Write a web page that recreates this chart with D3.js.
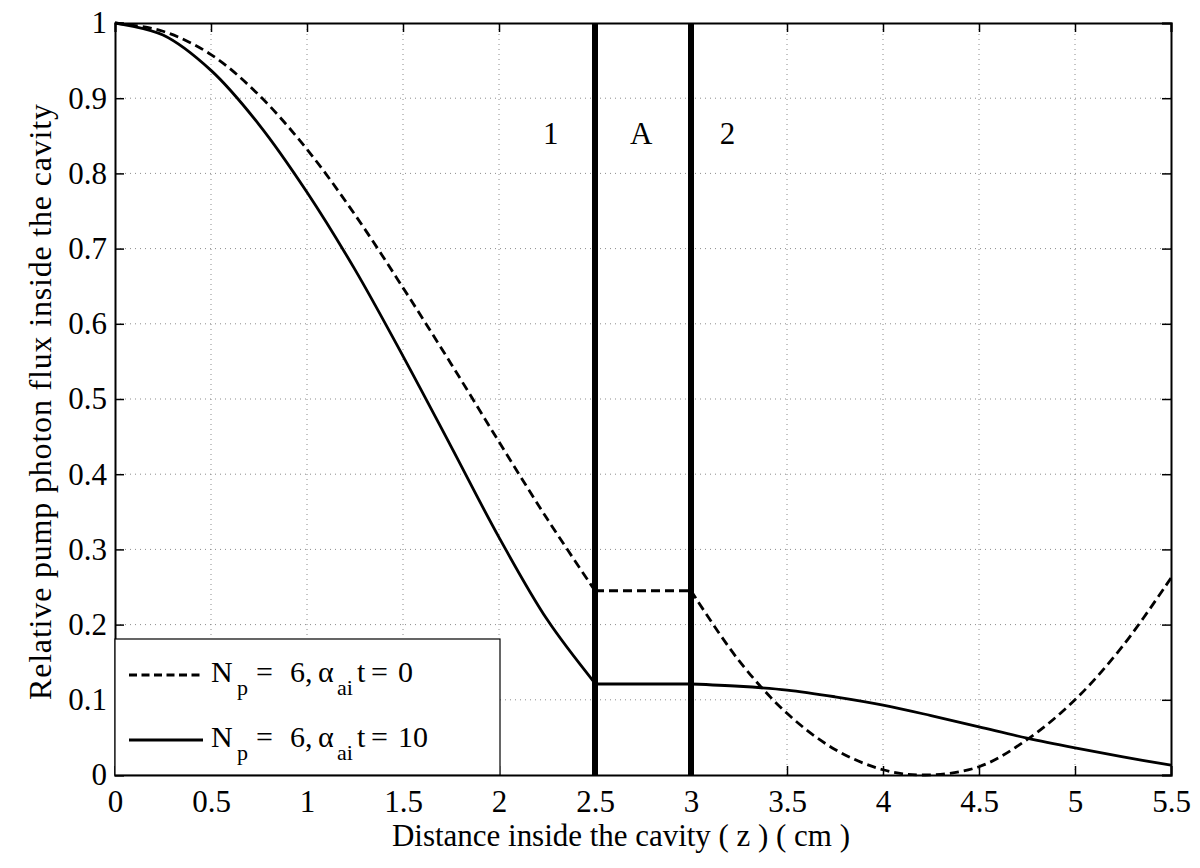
<!DOCTYPE html>
<html>
<head>
<meta charset="utf-8">
<script src="https://cdn.jsdelivr.net/npm/d3@7"></script>
</head>
<body style="margin:0; background:#fff">
<svg id="svg0" width="1200" height="868"></svg>
<script>
// values
var xTicks = [0, 0.5, 1, 1.5, 2, 2.5, 3, 3.5, 4, 4.5, 5, 5.5];
var yTicks = [0, 0.1, 0.2, 0.3, 0.4, 0.5, 0.6, 0.7, 0.8, 0.9, 1];
var xTickLabels = ["0", "0.5", "1", "1.5", "2", "2.5", "3", "3.5", "4", "4.5", "5", "5.5"];
var yTickLabels = ["0", "0.1", "0.2", "0.3", "0.4", "0.5", "0.6", "0.7", "0.8", "0.9", "1"];

// region 1 (0 - 2.5), gap A (2.5 - 3), region 2 (3 - 5.5)
var z1 = [0, 0.25, 0.5, 0.75, 1.0, 1.25, 1.5, 1.75, 2.0, 2.25, 2.5];
var dash1 = [1.0, 0.989, 0.958, 0.904, 0.832, 0.745, 0.648, 0.547, 0.443, 0.341, 0.245];
var solid1 = [1.0, 0.984, 0.937, 0.865, 0.775, 0.672, 0.557, 0.437, 0.316, 0.207, 0.122];

var zA = [2.5, 3.0];
var dashA = [0.245, 0.245];
var solidA = [0.121, 0.121];

var z2 = [3.0, 3.25, 3.5, 3.75, 4.0, 4.22, 4.5, 4.75, 5.0, 5.25, 5.5];
var dash2 = [0.245, 0.152, 0.082, 0.034, 0.007, 0.0, 0.011, 0.047, 0.100, 0.172, 0.262];
var z2s = [3.0, 3.25, 3.5, 3.75, 4.0, 4.25, 4.5, 4.75, 5.0, 5.25, 5.5];
var solid2 = [0.121, 0.118, 0.113, 0.104, 0.093, 0.079, 0.064, 0.049, 0.036, 0.024, 0.013];

var walls = [2.5, 3.0];
var regionLabels = [{t: "1", z: 2.27}, {t: "A", z: 2.74}, {t: "2", z: 3.19}];

var FONT = "'Liberation Serif'";
var margin = {left: 115, top: 23, right: 29, bottom: 93};
var W = 1200, H = 868;
var x = d3.scaleLinear().domain([0, 5.5]).range([margin.left, W - margin.right]);
var y = d3.scaleLinear().domain([0, 1]).range([H - margin.bottom, margin.top]);

var svg = d3.select("#svg0");

// grid
var grid = svg.append("g").attr("stroke", "#8c8c8c").attr("stroke-width", 1).attr("stroke-dasharray", "1,4");
grid.selectAll("line.gx").data(xTicks.slice(1, -1)).enter().append("line")
  .attr("x1", d => x(d)).attr("x2", d => x(d)).attr("y1", y(0)).attr("y2", y(1));
grid.selectAll("line.gy").data(yTicks.slice(1, -1)).enter().append("line")
  .attr("y1", d => y(d)).attr("y2", d => y(d)).attr("x1", x(0)).attr("x2", x(5.5));

// axes (MATLAB style: ticks inside, box)
var tickLen = 9;
var axB = svg.append("g").attr("transform", "translate(0," + y(0) + ")")
  .call(d3.axisBottom(x).tickValues(xTicks).tickSize(-tickLen).tickPadding(15).tickFormat((d, i) => xTickLabels[i]));
var axT = svg.append("g").attr("transform", "translate(0," + y(1) + ")")
  .call(d3.axisTop(x).tickValues(xTicks).tickSize(-tickLen).tickFormat(""));
var axL = svg.append("g").attr("transform", "translate(" + x(0) + ",0)")
  .call(d3.axisLeft(y).tickValues(yTicks).tickSize(-tickLen).tickPadding(8).tickFormat((d, i) => yTickLabels[i]));
var axR = svg.append("g").attr("transform", "translate(" + x(5.5) + ",0)")
  .call(d3.axisRight(y).tickValues(yTicks).tickSize(-tickLen).tickFormat(""));
[axB, axT, axL, axR].forEach(function (a) {
  a.attr("font-family", null);
  a.select(".domain").attr("stroke", "#000").attr("stroke-width", 2);
  a.selectAll(".tick line").attr("stroke", "#000").attr("stroke-width", 1.5);
  a.selectAll("text").style("font-family", FONT).style("font-size", "31px").attr("fill", "#000");
});
axB.selectAll("text").attr("dy", "0.71em");

// curves
var line = d3.line().x(d => x(d[0])).y(d => y(d[1])).curve(d3.curveCatmullRom);
function pairs(zs, vs) { return zs.map((z, i) => [z, vs[i]]); }
var curves = [
  {pts: pairs(z1, solid1), dash: null},
  {pts: pairs(zA, solidA), dash: null},
  {pts: pairs(z2s, solid2), dash: null},
  {pts: pairs(z1, dash1), dash: "9,5"},
  {pts: pairs(zA, dashA), dash: "9,5"},
  {pts: pairs(z2, dash2), dash: "9,5"}
];
svg.append("g").selectAll("path").data(curves).enter().append("path")
  .attr("d", d => line(d.pts))
  .attr("fill", "none").attr("stroke", "#000").attr("stroke-width", 2.8)
  .attr("stroke-dasharray", d => d.dash);

// walls
svg.append("g").selectAll("line").data(walls).enter().append("line")
  .attr("x1", d => x(d)).attr("x2", d => x(d)).attr("y1", y(0)).attr("y2", y(1))
  .attr("stroke", "#000").attr("stroke-width", 6);

svg.append("g").selectAll("text").data(regionLabels).enter().append("text")
  .attr("x", d => x(d.z)).attr("y", 144).attr("text-anchor", "middle")
  .style("font-family", FONT).style("font-size", "31px").text(d => d.t);

// legend
var lg = svg.append("g");
lg.append("rect").attr("x", x(0)).attr("y", 639).attr("width", 385).attr("height", y(0) - 639)
  .attr("fill", "#fff").attr("stroke", "#000").attr("stroke-width", 1.2);
var legendItems = [{dash: "8,4.5", val: "0", y: 675}, {dash: null, val: "10", y: 740}];
legendItems.forEach(function (it) {
  lg.append("line").attr("x1", 129).attr("x2", 203).attr("y1", it.y).attr("y2", it.y)
    .attr("stroke", "#000").attr("stroke-width", 2.8).attr("stroke-dasharray", it.dash);
  var b = it.y + 7;
  var t = lg.append("text").attr("y", b).style("font-family", FONT).style("font-size", "30px");
  t.append("tspan").attr("x", 211).attr("y", b).text("N");
  t.append("tspan").attr("x", 237).attr("y", b + 13).style("font-size", "22px").text("p");
  t.append("tspan").attr("x", 256).attr("y", b).text("=");
  t.append("tspan").attr("x", 290).attr("y", b).text("6,");
  t.append("tspan").attr("x", 318).attr("y", b).text("\u03b1");
  t.append("tspan").attr("x", 337).attr("y", b + 13).style("font-size", "22px").text("ai");
  t.append("tspan").attr("x", 357).attr("y", b).text("t");
  t.append("tspan").attr("x", 371).attr("y", b).text("=");
  t.append("tspan").attr("x", 398).attr("y", b).text(it.val);
});

// axis titles
svg.append("text").attr("x", 392).attr("y", 846)
  .attr("textLength", 458).attr("lengthAdjust", "spacing")
  .style("font-family", FONT).style("font-size", "31px").text("Distance inside the cavity ( z ) ( cm )");
svg.append("text").attr("transform", "translate(51,700) rotate(-90)")
  .attr("textLength", 596).attr("lengthAdjust", "spacing")
  .style("font-family", FONT).style("font-size", "32px").text("Relative pump photon flux inside the cavity");
</script>
</body>
</html>
